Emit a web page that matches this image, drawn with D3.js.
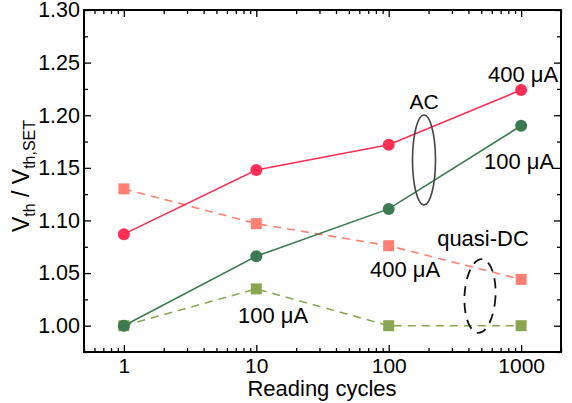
<!DOCTYPE html>
<html><head><meta charset="utf-8">
<script src="https://cdn.jsdelivr.net/npm/d3@7"></script>
<style>body{margin:0;background:#fff}svg{display:block;font-family:Arial,"Liberation Sans",sans-serif}</style>
</head><body><svg id="c" width="572" height="403"></svg>
<script>
const cycles = [1, 10, 100, 1000];
const ac400 = [1.087, 1.148, 1.172, 1.224];
const ac100 = [1.000, 1.066, 1.111, 1.190];
const dc400 = [1.130, 1.097, 1.076, 1.044];
const dc100 = [1.000, 1.035, 1.000, 1.000];
const xTickValues = [1, 10, 100, 1000];
const yTickValues = [1.00, 1.05, 1.10, 1.15, 1.20, 1.25, 1.30];

const series = [
  {vals: dc400, color: "#ff7f72", marker: "square", dash: "8,6"},
  {vals: dc100, color: "#8aa650", marker: "square", dash: "8,6"},
  {vals: ac400, color: "#ff2e55", marker: "circle", dash: null},
  {vals: ac100, color: "#3c7a52", marker: "circle", dash: null}
];

const svg = d3.select("#c");
const L = 84, R = 561, T = 10, B = 352;
const x = d3.scaleLog().domain([0.5, 2000]).range([L, R]);
const y = d3.scaleLinear().domain([0.975, 1.30]).range([B, T]);

const minorX = [];
[0.1, 1, 10, 100, 1000].forEach(d => { for (let k = 2; k <= 9; k++) { const v = d * k; if (v >= 0.5 && v <= 2000) minorX.push(v); } });
const minorY = d3.range(0, 14).map(i => 0.975 + i * 0.025).filter(v => yTickValues.every(t => Math.abs(t - v) > 1e-6));

const g = svg.append("g");
const bx = g.append("g").attr("transform", `translate(0,${B})`)
  .call(d3.axisBottom(x).tickValues(xTickValues).tickFormat(d3.format("d")).tickSize(-7).tickPadding(6));
bx.selectAll(".tick text").attr("font-size", 21).attr("fill", "#000");
g.append("g").attr("transform", `translate(0,${B})`).call(d3.axisBottom(x).tickValues(minorX).tickFormat("").tickSize(-4));
g.append("g").attr("transform", `translate(0,${T})`).call(d3.axisTop(x).tickValues(xTickValues).tickFormat("").tickSize(-7));
g.append("g").attr("transform", `translate(0,${T})`).call(d3.axisTop(x).tickValues(minorX).tickFormat("").tickSize(-4));
const ly = g.append("g").attr("transform", `translate(${L},0)`)
  .call(d3.axisLeft(y).tickValues(yTickValues).tickFormat(d3.format(".2f")).tickSize(-7).tickPadding(4));
ly.selectAll(".tick text").attr("font-size", 21.5).attr("fill", "#000");
g.append("g").attr("transform", `translate(${L},0)`).call(d3.axisLeft(y).tickValues(minorY).tickFormat("").tickSize(-4));
g.append("g").attr("transform", `translate(${R},0)`).call(d3.axisRight(y).tickValues(yTickValues).tickFormat("").tickSize(-7));
g.append("g").attr("transform", `translate(${R},0)`).call(d3.axisRight(y).tickValues(minorY).tickFormat("").tickSize(-4));
g.selectAll(".domain").remove();
g.selectAll(".tick line").attr("stroke", "#000").attr("stroke-width", 1.3);
svg.append("rect").attr("x", L).attr("y", T).attr("width", R - L).attr("height", B - T)
  .attr("fill", "none").attr("stroke", "#000").attr("stroke-width", 2);

const line = d3.line().x((d, i) => x(cycles[i])).y(d => y(d));
series.forEach(s => {
  svg.append("path").datum(s.vals).attr("d", line).attr("fill", "none")
    .attr("stroke", s.color).attr("stroke-width", 1.6).attr("stroke-dasharray", s.dash);
  s.vals.forEach((v, i) => {
    if (s.marker === "circle") {
      svg.append("circle").attr("cx", x(cycles[i])).attr("cy", y(v)).attr("r", 6).attr("fill", s.color);
    } else {
      svg.append("rect").attr("x", x(cycles[i]) - 5.5).attr("y", y(v) - 5.5).attr("width", 11).attr("height", 11).attr("fill", s.color);
    }
  });
});

svg.append("ellipse").attr("cx", 424).attr("cy", 160).attr("rx", 11.5).attr("ry", 45)
  .attr("fill", "none").attr("stroke", "#444").attr("stroke-width", 1.6);
svg.append("ellipse").attr("cx", 480).attr("cy", 296).attr("rx", 15.5).attr("ry", 37)
  .attr("fill", "none").attr("stroke", "#111").attr("stroke-width", 1.8).attr("stroke-dasharray", "10,7")
  .attr("transform", "rotate(3,480,296)");

const ann = [
  ["400 μA", 523, 82], ["AC", 424, 109], ["100 μA", 519, 169],
  ["quasi-DC", 483, 246], ["400 μA", 405, 277], ["100 μA", 273, 323]
];
ann.forEach(a => svg.append("text").attr("x", a[1]).attr("y", a[2]).attr("text-anchor", "middle")
  .attr("font-size", a[0] === "AC" ? 21 : 22).attr("fill", "#000").text(a[0]));

svg.append("text").attr("x", 322).attr("y", 396).attr("text-anchor", "middle")
  .attr("font-size", 22).text("Reading cycles");
const yt = svg.append("text").attr("transform", "translate(29,176) rotate(-90)").attr("text-anchor", "middle").attr("font-size", 23);
yt.append("tspan").text("V");
yt.append("tspan").attr("font-size", 16).attr("dy", 6).text("th");
yt.append("tspan").attr("dy", -6).text(" / V");
yt.append("tspan").attr("font-size", 16).attr("dy", 6).text("th,SET");
</script></body></html>
